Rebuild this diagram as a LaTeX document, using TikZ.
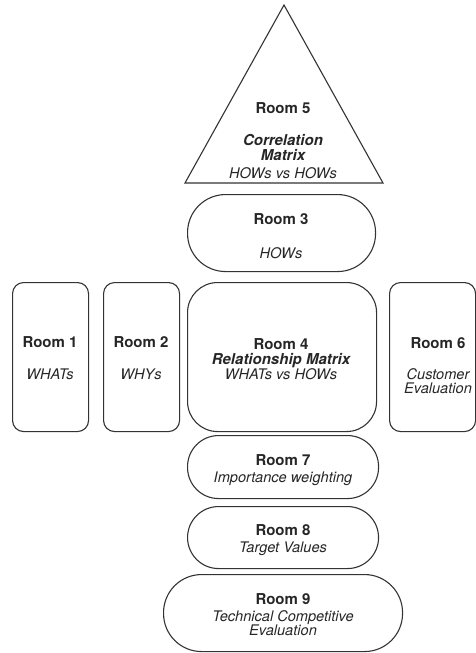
\documentclass[tikz,border=0pt]{standalone}
\usepackage{fontspec}
\setmainfont{TeX Gyre Heros}
\begin{document}
\begin{tikzpicture}[x=1pt,y=-1pt,
  wall/.style={draw=black!80, line width=1.1pt},
  room/.style={wall, rectangle, inner sep=0pt, anchor=north west},
  txt/.style={inner sep=0pt, anchor=base, text=black!85},
  head/.style={txt, font=\fontsize{15}{15}\selectfont\bfseries},
  sub/.style={txt, font=\fontsize{14.6}{15}\selectfont\itshape},
  subb/.style={txt, font=\fontsize{15}{15}\selectfont\bfseries\itshape}]
\useasboundingbox (0,0) rectangle (475,653);

% Room 5: the roof
\draw[wall, line join=miter] (284,5) -- (383,183) -- (185,183) -- cycle;
\node[head] (r5a) at (283,113) {Room 5};
\node[subb] (r5b) at (283,145) {Correlation};
\node[subb] (r5c) at (283,160) {Matrix};
\node[sub]  (r5d) at (283,178) {HOWs vs HOWs};

% Room 3
\node[room, rounded corners=38pt, minimum width=188pt, minimum height=77pt] (r3) at (187,194) {};
\node[head] (r3a) at (281,224) {Room 3};
\node[sub]  (r3b) at (281,258) {HOWs};

% Room 1
\node[room, rounded corners=11pt, minimum width=76pt, minimum height=149pt] (r1) at (12,282) {};
\node[head] (r1a) at (50,347) {Room 1};
\node[sub]  (r1b) at (50,379) {WHATs};

% Room 2
\node[room, rounded corners=11pt, minimum width=76pt, minimum height=149pt] (r2) at (103,282) {};
\node[head] (r2a) at (141,347) {Room 2};
\node[sub]  (r2b) at (141,379) {WHYs};

% Room 4
\node[room, rounded corners=30pt, minimum width=189pt, minimum height=149pt] (r4) at (187,282) {};
\node[head] (r4a) at (281,349) {Room 4};
\node[subb] (r4b) at (281,364) {Relationship Matrix};
\node[sub]  (r4c) at (281,379) {WHATs vs HOWs};

% Room 6
\node[room, rounded corners=11pt, minimum width=86pt, minimum height=149pt] (r6) at (389,282) {};
\node[head] (r6a) at (438,348) {Room 6};
\node[sub]  (r6b) at (438,379) {Customer};
\node[sub]  (r6c) at (438,393) {Evaluation};

% Room 7
\node[room, rounded corners=31pt, minimum width=191pt, minimum height=63pt] (r7) at (187,435) {};
\node[head] (r7a) at (283,465) {Room 7};
\node[sub]  (r7b) at (283,482) {Importance weighting};

% Room 8
\node[room, rounded corners=31pt, minimum width=191pt, minimum height=62pt] (r8) at (187,506) {};
\node[head] (r8a) at (283,535) {Room 8};
\node[sub]  (r8b) at (283,552) {Target Values};

% Room 9
\node[room, rounded corners=38pt, minimum width=239pt, minimum height=77pt] (r9) at (163,574) {};
\node[head] (r9a) at (283,604) {Room 9};
\node[sub]  (r9b) at (283,621) {Technical Competitive};
\node[sub]  (r9c) at (283,635) {Evaluation};
\end{tikzpicture}
\end{document}
